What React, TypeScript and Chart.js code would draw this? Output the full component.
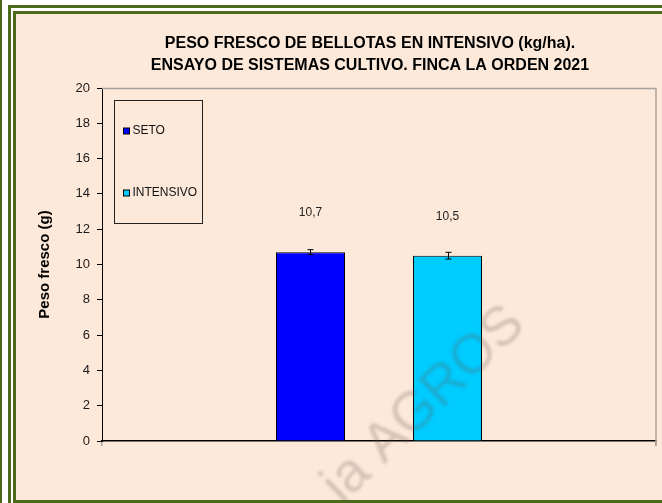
import React, { useEffect, useRef } from "react";
import { Chart, registerables } from "chart.js";

Chart.register(...registerables);

// ---- data ----
const categories = ["Peso fresco"];
const seriesNames = ["SETO", "INTENSIVO"];
const setoValues = [10.7];
const intensivoValues = [10.5];
const setoErrors = [0.14];
const intensivoErrors = [0.19];
const seriesColors = ["#0000ff", "#00ccff"];
const yMin = 0;
const yMax = 20;
const yStep = 2;
const titleLines = [
  "PESO FRESCO DE BELLOTAS EN INTENSIVO (kg/ha).",
  "ENSAYO DE SISTEMAS CULTIVO. FINCA LA ORDEN 2021",
];
const yAxisTitle = "Peso fresco (g)";
const watermarkText = "ia AGROS";

const FONT = '"Liberation Sans", Arial, Helvetica, sans-serif';
const GREEN = "#4d6a1c";
const BEIGE = "#fde9da";

const errorsBySeries = [setoErrors, intensivoErrors];

const decorPlugin = {
  id: "decor",
  beforeDatasetsDraw(chart: any) {
    const { ctx, chartArea } = chart;
    ctx.save();
    ctx.strokeStyle = "#a9a29c";
    ctx.lineWidth = 1.5;
    ctx.beginPath();
    ctx.moveTo(chartArea.left, chartArea.top + 0.5);
    ctx.lineTo(chartArea.right, chartArea.top + 0.5);
    ctx.lineTo(chartArea.right, chartArea.bottom + 5);
    ctx.stroke();
    ctx.restore();
  },
  afterDatasetsDraw(chart: any) {
    const { ctx, chartArea, scales } = chart;
    const yScale = scales.y;
    ctx.save();
    // error bars + data labels
    chart.data.datasets.forEach((ds: any, i: number) => {
      const meta = chart.getDatasetMeta(i);
      const errs = errorsBySeries[i] || [];
      meta.data.forEach((el: any, j: number) => {
        const v = ds.data[j];
        const e = errs[j] || 0;
        const yTop = yScale.getPixelForValue(v + e);
        const yBot = yScale.getPixelForValue(v - e);
        const x = Math.round(el.x) + 0.5;
        ctx.strokeStyle = "#000";
        ctx.lineWidth = 1;
        ctx.beginPath();
        ctx.moveTo(x, yTop);
        ctx.lineTo(x, yBot);
        ctx.moveTo(x - 3, yTop);
        ctx.lineTo(x + 3, yTop);
        ctx.moveTo(x - 3, yBot);
        ctx.lineTo(x + 3, yBot);
        ctx.stroke();
        ctx.fillStyle = "#222";
        ctx.font = `12px ${FONT}`;
        ctx.textAlign = "center";
        ctx.textBaseline = "middle";
        ctx.fillText(v.toFixed(1).replace(".", ","), el.x, el.y - 39);
      });
    });
    // legend box
    const lx = chartArea.left + 12.5;
    const ly = chartArea.top + 12.5;
    ctx.strokeStyle = "#222";
    ctx.lineWidth = 1;
    ctx.strokeRect(lx, ly, 88, 123);
    chart.data.datasets.forEach((ds: any, i: number) => {
      const cy = chartArea.top + 43 + i * 62;
      ctx.fillStyle = ds.backgroundColor;
      ctx.fillRect(lx + 9, cy - 3, 6, 6);
      ctx.strokeStyle = "#000";
      ctx.strokeRect(lx + 9, cy - 3, 6, 6);
      ctx.fillStyle = "#111";
      ctx.font = `12px ${FONT}`;
      ctx.textAlign = "left";
      ctx.textBaseline = "middle";
      ctx.fillText(ds.label, lx + 18, cy);
    });
    // title
    ctx.fillStyle = "#000";
    ctx.font = `bold 16px ${FONT}`;
    ctx.textAlign = "center";
    ctx.textBaseline = "middle";
    const tx = (chartArea.left + chartArea.right) / 2 - 9;
    titleLines.forEach((t, k) => {
      ctx.fillText(t, tx, 44 + k * 22);
    });
    ctx.restore();
  },
  afterDraw(chart: any) {
    const { ctx } = chart;
    ctx.save();
    ctx.translate(424, 405);
    ctx.rotate((-44 * Math.PI) / 180);
    ctx.font = `55px ${FONT}`;
    ctx.textAlign = "center";
    ctx.textBaseline = "middle";
    ctx.filter = "blur(1.5px)";
    ctx.fillStyle = "rgba(95, 85, 80, 0.26)";
    ctx.fillText(watermarkText, 0, 0);
    ctx.restore();
  },
};

export default function App() {
  const canvasRef = useRef<HTMLCanvasElement | null>(null);

  useEffect(() => {
    if (!canvasRef.current) return;
    const chart = new Chart(canvasRef.current, {
      type: "bar",
      data: {
        labels: categories,
        datasets: [
          {
            label: seriesNames[0],
            data: setoValues,
            backgroundColor: seriesColors[0],
            borderColor: "#000",
            borderWidth: 1,
            borderSkipped: "bottom",
          },
          {
            label: seriesNames[1],
            data: intensivoValues,
            backgroundColor: seriesColors[1],
            borderColor: "#000",
            borderWidth: 1,
            borderSkipped: "bottom",
          },
        ],
      },
      options: {
        responsive: false,
        animation: false,
        devicePixelRatio: 1,
        datasets: {
          bar: {
            barPercentage: 0.504,
            categoryPercentage: 0.4946,
          },
        },
        layout: { padding: { top: 88, right: 6, left: 0, bottom: 0 } },
        plugins: {
          legend: { display: false },
          title: { display: false },
          tooltip: { enabled: false },
        },
        scales: {
          x: {
            afterFit(scale: any) {
              scale.height = 62;
            },
            ticks: { display: false },
            grid: {
              display: true,
              drawOnChartArea: false,
              drawTicks: true,
              tickLength: 5,
              color: "#a9a29c",
              lineWidth: 1.5,
              offset: true,
            },
            border: { display: true, color: "#000", width: 1.5 },
          },
          y: {
            min: yMin,
            max: yMax,
            afterFit(scale: any) {
              scale.width = 102;
            },
            ticks: {
              stepSize: yStep,
              color: "#1a1a1a",
              padding: 7,
              font: { family: FONT, size: 13 },
            },
            grid: {
              display: true,
              drawOnChartArea: false,
              drawTicks: true,
              tickLength: 5,
              color: "#000",
            },
            border: { display: true, color: "#000", width: 1 },
            title: {
              display: true,
              text: yAxisTitle,
              color: "#000",
              font: { family: FONT, size: 15, weight: "bold" },
              padding: { top: 36, bottom: 0 },
            },
          },
        },
      },
      plugins: [decorPlugin],
    });
    return () => chart.destroy();
  }, []);

  return (
    <div
      style={{
        position: "fixed",
        left: 0,
        top: 0,
        width: 662,
        height: 503,
        background: "#fff",
        overflow: "hidden",
      }}
    >
      <div style={{ position: "absolute", left: 0, top: 0, width: 2, height: 503, background: GREEN }} />
      <div
        style={{
          position: "absolute",
          left: 8,
          top: 5,
          width: 654,
          height: 498,
          borderLeft: `3px solid ${GREEN}`,
          borderTop: `3px solid ${GREEN}`,
          boxSizing: "border-box",
        }}
      />
      <div
        style={{
          position: "absolute",
          left: 13,
          top: 11,
          width: 649,
          height: 492,
          borderLeft: `3px solid ${GREEN}`,
          borderTop: `3px solid ${GREEN}`,
          borderBottom: `3px solid ${GREEN}`,
          background: BEIGE,
          boxSizing: "border-box",
        }}
      />
      <canvas
        ref={canvasRef}
        width={662}
        height={503}
        style={{ position: "absolute", left: 0, top: 0, width: 662, height: 503 }}
      />
    </div>
  );
}
